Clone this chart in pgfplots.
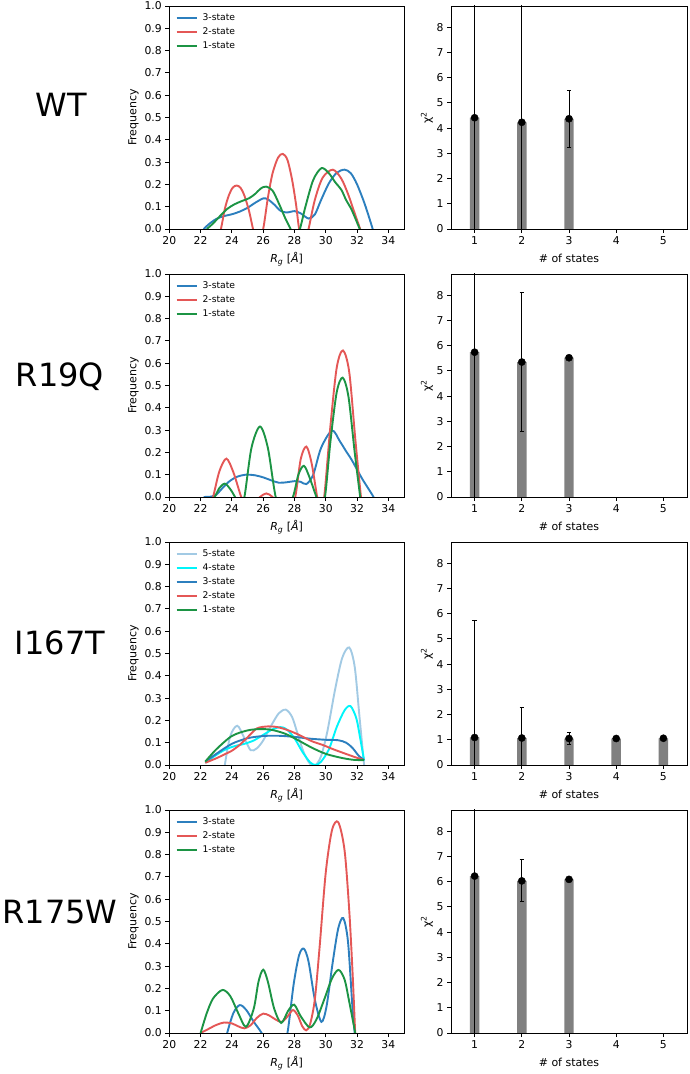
\documentclass[border=0pt]{standalone}
\usepackage{fontspec}
\setmainfont{DejaVu Sans}
\usepackage{pgfplots}
\pgfplotsset{compat=1.18}

\definecolor{cA}{RGB}{44,127,190}   % 3-state
\definecolor{cB}{RGB}{228,87,86}    % 2-state
\definecolor{cC}{RGB}{28,148,68}    % 1-state
\definecolor{cD}{RGB}{0,245,250}    % 4-state
\definecolor{cE}{RGB}{162,202,228}  % 5-state
\definecolor{barg}{RGB}{128,128,128}

\pgfplotsset{
  panel/.style={
    scale only axis, height=223pt,
    axis line style={line width=0.8pt},
    tick align=outside, tick pos=left,
    major tick length=4pt,
    every tick/.style={black, line width=0.8pt},
    tick label style={font=\fontsize{10.8}{12}\selectfont},
    /pgf/number format/assume math mode=true,
    label style={font=\fontsize{11}{13}\selectfont},
    xlabel style={at={(axis description cs:0.5,0)}, anchor=base, yshift=-33.5pt},
    anchor=south west,
  },
  rg/.style={
    panel, width=234.7pt,
    xmin=20, xmax=35, ymin=0, ymax=1,
    xtick={20,22,24,26,28,30,32,34},
    ytick={0,0.1,0.2,0.3,0.4,0.5,0.6,0.7,0.8,0.9,1},
    yticklabel style={/pgf/number format/fixed, /pgf/number format/fixed zerofill, /pgf/number format/precision=1},
    xlabel={\textit{R}\textsubscript{\textit{g}} [\textit{Å}]},
    ylabel={Frequency},
    ylabel style={at={(axis description cs:-0.153,0.5)}, anchor=center},
    legend cell align=left,
    legend style={at={(axis description cs:0,1)}, anchor=north west, xshift=6.2pt, yshift=-6.3pt,
      draw=none, fill=none, inner sep=0pt, row sep=2.7pt,
      font=\fontsize{9.2}{10}\selectfont,
      nodes={inner sep=1.5pt, text height=6.8pt, text depth=1.5pt}},
    legend image code/.code={\draw[#1, line width=1.9pt] (0pt,0pt) -- (20.5pt,0pt); \path (23.5pt,0pt);},
    every axis plot/.append style={line width=1.9pt, smooth},
  },
  chi/.style={
    panel, width=236pt,
    xmin=0.5, xmax=5.5, ymin=0, ymax=8.84,
    xtick={1,2,3,4,5}, ytick={0,1,2,3,4,5,6,7,8},
    xlabel={\# of states},
    ylabel={χ\textsuperscript{2}},
    ylabel style={at={(axis description cs:-0.102,0.5)}, anchor=center},
  },
  bars/.style={ybar, bar width=0.2, fill=barg, draw=none},
  pts/.style={only marks, mark=*, mark size=3.6pt, black, mark options={fill=black},
    error bars/.cd, y dir=both, y explicit,
    error bar style={line width=0.9pt, black},
    error mark options={rotate=90, mark size=2.2pt, line width=0.9pt, black}},
}

\begin{document}
\begin{tikzpicture}
\useasboundingbox (0pt,0pt) rectangle (689pt,1074pt);

% row names
\node[font=\fontsize{32}{38}\selectfont, anchor=base] at (61pt,957pt) {WT};
\node[font=\fontsize{32}{38}\selectfont, anchor=base] at (60pt,687pt) {R19Q};
\node[font=\fontsize{32}{38}\selectfont, anchor=base] at (60pt,419pt) {I167T};
\node[font=\fontsize{32}{38}\selectfont, anchor=base] at (60pt,150pt) {R175W};

% ---------------- WT ----------------
\begin{axis}[rg, at={(169.3pt,845pt)}]
\addplot[cA] coordinates {(22.2,0) (22.5,0.02) (23.0,0.045) (23.5,0.058) (24.0,0.066) (24.5,0.078)
 (25.0,0.095) (25.5,0.118) (26.0,0.137) (26.3,0.133) (26.7,0.11) (27.1,0.082) (27.5,0.074)
 (28.0,0.08) (28.4,0.07) (28.9,0.047) (29.3,0.065) (29.7,0.13) (30.2,0.205) (30.7,0.252)
 (31.2,0.266) (31.6,0.25) (32.0,0.2) (32.5,0.11) (33.0,0) (33.2,-0.05)};
\addlegendentry{3-state}
\addplot[cB] coordinates {(23.0,-0.08) (23.3,0) (23.55,0.09) (23.8,0.15) (24.05,0.185) (24.3,0.195)
 (24.55,0.185) (24.8,0.15) (25.1,0.08) (25.35,0) (25.65,-0.08) (26.0,0) (26.3,0.14) (26.6,0.25)
 (26.95,0.32) (27.25,0.337) (27.55,0.31) (27.85,0.22) (28.1,0.11) (28.3,0) (28.6,-0.08) (28.9,0)
 (29.3,0.13) (29.8,0.23) (30.45,0.266) (31.0,0.225) (31.45,0.152) (31.85,0.07) (32.2,0) (32.45,-0.05)};
\addlegendentry{2-state}
\addplot[cC] coordinates {(22.4,0) (22.8,0.025) (23.2,0.055) (23.7,0.09) (24.2,0.112) (24.7,0.127)
 (25.1,0.138) (25.5,0.158) (25.85,0.182) (26.2,0.19) (26.6,0.172) (27.0,0.115) (27.4,0.05)
 (27.75,0) (28.05,-0.05) (28.35,0) (28.7,0.1) (29.2,0.22) (29.73,0.273) (30.2,0.25) (30.6,0.21)
 (31.0,0.175) (31.3,0.13) (31.66,0.085) (32.17,0) (32.4,-0.04)};
\addlegendentry{1-state}
\end{axis}

\begin{axis}[chi, at={(451pt,845pt)}]
\addplot[bars] coordinates {(1,4.41) (2,4.23) (3,4.37)};
\addplot[pts] coordinates {(1,4.41) +- (0,5) (2,4.23) +- (0,5) (3,4.37) +- (0,1.12)};
\end{axis}

% ---------------- R19Q ----------------
\begin{axis}[rg, at={(169.3pt,577pt)}]
\addplot[cA] coordinates {(22.2,0) (22.7,0.002) (23.0,0.01) (23.4,0.04) (23.8,0.068) (24.3,0.09)
 (24.9,0.1) (25.5,0.097) (26.0,0.088) (26.5,0.075) (27.0,0.064) (27.5,0.066) (28.0,0.071)
 (28.4,0.068) (28.76,0.058) (29.2,0.1) (29.7,0.22) (30.4,0.298) (30.9,0.25) (31.3,0.205)
 (31.66,0.166) (32.3,0.085) (32.7,0.04) (33.05,0) (33.2,-0.03)};
\addlegendentry{3-state}
\addplot[cB] coordinates {(22.5,-0.07) (22.8,0) (23.2,0.115) (23.65,0.172) (24.1,0.11) (24.6,0)
 (25.0,-0.05) (25.8,0) (26.2,0.016) (26.6,0) (27.0,-0.04) (27.7,-0.05) (28.05,0) (28.4,0.17)
 (28.76,0.226) (29.1,0.15) (29.45,0) (29.65,-0.06) (29.9,0) (30.3,0.32) (30.7,0.58) (31.1,0.657)
 (31.5,0.56) (31.9,0.25) (32.25,0) (32.45,-0.12)};
\addlegendentry{2-state}
\addplot[cC] coordinates {(22.6,-0.03) (22.9,0) (23.2,0.04) (23.55,0.06) (23.9,0.035) (24.2,0)
 (24.5,-0.04) (24.8,0) (25.25,0.22) (25.8,0.316) (26.3,0.22) (26.8,0) (27.3,-0.08) (27.9,0)
 (28.25,0.1) (28.6,0.14) (28.95,0.09) (29.4,0) (29.65,-0.05) (29.95,0) (30.3,0.25) (30.7,0.47)
 (31.08,0.535) (31.45,0.45) (31.85,0.2) (32.2,0) (32.4,-0.1)};
\addlegendentry{1-state}
\end{axis}

\begin{axis}[chi, at={(451pt,577pt)}]
\addplot[bars] coordinates {(1,5.74) (2,5.35) (3,5.52)};
\addplot[pts] coordinates {(1,5.74) +- (0,6) (2,5.35) +- (0,2.76) (3,5.52) +- (0,0)};
\end{axis}

% ---------------- I167T ----------------
\begin{axis}[rg, at={(169.3pt,309pt)}]
\addplot[cE] coordinates {(23.3,-0.15) (23.55,0) (23.9,0.13) (24.35,0.176) (24.8,0.12) (25.2,0.066)
 (25.6,0.075) (26.0,0.11) (26.5,0.175) (27.0,0.232) (27.45,0.248) (27.85,0.215) (28.2,0.14)
 (28.6,0.055) (29.0,0.005) (29.35,0) (29.7,0.04) (30.1,0.15) (30.6,0.34) (31.05,0.48) (31.5,0.527)
 (31.85,0.44) (32.15,0.22) (32.45,0)};
\addlegendentry{5-state}
\addplot[cD] coordinates {(22.3,0.01) (23.0,0.045) (23.6,0.07) (24.2,0.085) (24.8,0.095) (25.4,0.11)
 (26.0,0.135) (26.6,0.16) (27.1,0.17) (27.5,0.16) (28.0,0.12) (28.5,0.06) (29.0,0.012) (29.35,0)
 (29.7,0.015) (30.2,0.07) (30.7,0.17) (31.2,0.245) (31.58,0.264) (31.95,0.21) (32.2,0.12) (32.45,0.02)};
\addlegendentry{4-state}
\addplot[cA] coordinates {(22.3,0.015) (23.0,0.05) (24.0,0.095) (25.0,0.12) (26.0,0.13) (27.0,0.131)
 (28.0,0.126) (29.0,0.118) (30.0,0.113) (30.8,0.111) (31.3,0.1) (31.7,0.077) (32.1,0.042) (32.45,0.022)};
\addlegendentry{3-state}
\addplot[cB] coordinates {(22.3,0.01) (23.0,0.03) (23.6,0.05) (24.0,0.064) (24.5,0.09) (25.0,0.124)
 (25.6,0.164) (26.3,0.173) (26.9,0.17) (27.5,0.158) (28.2,0.138) (29.1,0.107) (29.8,0.09)
 (30.5,0.07) (31.2,0.052) (31.8,0.037) (32.45,0.022)};
\addlegendentry{2-state}
\addplot[cC] coordinates {(22.3,0.015) (23.0,0.07) (24.0,0.13) (25.0,0.155) (25.8,0.161) (26.5,0.158)
 (27.3,0.143) (28.0,0.12) (29.1,0.078) (30.0,0.05) (31.0,0.032) (31.8,0.023) (32.45,0.022)};
\addlegendentry{1-state}
\end{axis}

\begin{axis}[chi, at={(451pt,309pt)}]
\addplot[bars] coordinates {(1,1.09) (2,1.07) (3,1.05) (4,1.05) (5,1.06)};
\addplot[pts] coordinates {(1,1.09) +- (0,4.63) (2,1.07) +- (0,1.2) (3,1.05) +- (0,0.25)
 (4,1.05) +- (0,0) (5,1.06) +- (0,0)};
\end{axis}

% ---------------- R175W ----------------
\begin{axis}[rg, at={(169.3pt,41pt)}]
\addplot[cA] coordinates {(23.4,-0.1) (23.7,0) (24.1,0.09) (24.5,0.125) (24.9,0.105) (25.4,0.05)
 (25.9,0) (26.3,-0.06) (27.2,-0.06) (27.55,0) (27.95,0.22) (28.3,0.35) (28.6,0.378) (28.9,0.32)
 (29.3,0.15) (29.72,0.05) (30.05,0.12) (30.45,0.32) (30.8,0.47) (31.12,0.515) (31.42,0.41)
 (31.7,0.12) (31.85,0) (31.95,-0.1)};
\addlegendentry{3-state}
\addplot[cB] coordinates {(22.0,0) (22.5,0.018) (23.0,0.036) (23.5,0.047) (24.0,0.043) (24.4,0.03)
 (24.8,0.021) (25.2,0.035) (25.6,0.068) (26.0,0.087) (26.4,0.078) (26.8,0.06) (27.2,0.05)
 (27.6,0.078) (27.9,0.103) (28.2,0.08) (28.5,0.03) (28.75,0.012) (29.0,0.04) (29.3,0.15)
 (29.6,0.38) (30.0,0.72) (30.4,0.91) (30.8,0.945) (31.2,0.82) (31.5,0.55) (31.72,0.26) (31.88,0)
 (31.95,-0.1)};
\addlegendentry{2-state}
\addplot[cC] coordinates {(22.0,0) (22.4,0.09) (22.8,0.155) (23.4,0.193) (23.9,0.165) (24.4,0.09)
 (24.9,0.028) (25.4,0.11) (25.7,0.23) (26.0,0.284) (26.3,0.23) (26.7,0.11) (27.15,0.045)
 (27.6,0.1) (27.98,0.127) (28.4,0.075) (28.97,0.025) (29.4,0.06) (29.9,0.15) (30.4,0.245)
 (30.82,0.283) (31.2,0.24) (31.5,0.14) (31.88,0) (31.95,-0.05)};
\addlegendentry{1-state}
\end{axis}

\begin{axis}[chi, at={(451pt,41pt)}]
\addplot[bars] coordinates {(1,6.22) (2,6.03) (3,6.09)};
\addplot[pts] coordinates {(1,6.22) +- (0,6.5) (2,6.03) +- (0,0.83) (3,6.09) +- (0,0)};
\end{axis}
\end{tikzpicture}
\end{document}
